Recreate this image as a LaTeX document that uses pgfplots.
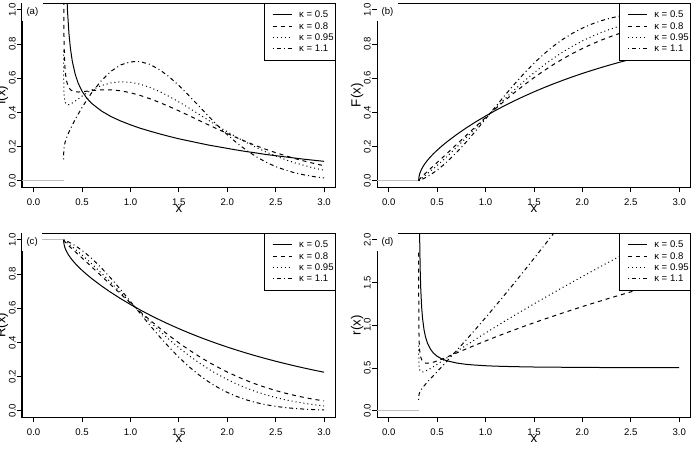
\documentclass[border=0pt]{standalone}
\usepackage{fontspec}
\setmainfont{Liberation Sans}
\usepackage{pgfplots}
\usepackage{pgfplotstable}
\pgfplotsset{compat=1.18}

% Columns: x, density f, cdf F, reliability R, hazard rate h
\pgfplotstableread{
x f F R h
0.31007 23.45 0.0033 0.9967 23.53
0.3102 13.85 0.0056 0.9945 13.93
0.3105 8.737 0.0088 0.9912 8.814
0.311 6.163 0.0124 0.9876 6.240
0.312 4.346 0.0175 0.9825 4.423
0.314 3.065 0.0247 0.9753 3.143
0.317 2.315 0.0326 0.9674 2.393
0.32 1.938 0.0389 0.9611 2.016
0.325 1.586 0.0476 0.9524 1.665
0.33 1.378 0.0550 0.9450 1.458
0.34 1.135 0.0674 0.9326 1.217
0.35 0.993 0.0780 0.9220 1.077
0.365 0.860 0.0918 0.9082 0.947
0.38 0.775 0.1041 0.8959 0.865
0.40 0.697 0.1187 0.8813 0.791
0.43 0.622 0.1384 0.8616 0.722
0.46 0.571 0.1563 0.8437 0.677
0.50 0.524 0.1781 0.8219 0.637
0.55 0.482 0.2032 0.7968 0.605
0.60 0.452 0.2265 0.7735 0.584
0.70 0.408 0.2693 0.7307 0.558
0.80 0.375 0.3084 0.6916 0.542
0.90 0.349 0.3446 0.6554 0.533
1.00 0.327 0.3783 0.6217 0.526
1.10 0.307 0.4100 0.5900 0.521
1.20 0.290 0.4399 0.5601 0.518
1.30 0.274 0.4681 0.5319 0.515
1.40 0.259 0.4947 0.5053 0.513
1.50 0.245 0.5199 0.4801 0.511
1.60 0.233 0.5438 0.4562 0.510
1.70 0.221 0.5665 0.4335 0.509
1.80 0.209 0.5879 0.4121 0.508
1.90 0.199 0.6083 0.3917 0.507
2.00 0.189 0.6277 0.3723 0.506
2.10 0.179 0.6460 0.3540 0.506
2.20 0.170 0.6635 0.3365 0.505
2.30 0.162 0.6800 0.3200 0.505
2.40 0.153 0.6958 0.3042 0.504
2.50 0.146 0.7107 0.2893 0.504
2.60 0.139 0.7249 0.2751 0.504
2.70 0.132 0.7384 0.2616 0.503
2.80 0.125 0.7513 0.2487 0.503
2.90 0.119 0.7635 0.2365 0.503
3.00 0.113 0.7751 0.2249 0.503
}\kapA

\pgfplotstableread{
x f F R h
0.31007 1.849 0.0002 0.9998 1.850
0.3102 1.499 0.0004 0.9996 1.500
0.3105 1.249 0.0008 0.9992 1.250
0.311 1.088 0.0014 0.9986 1.090
0.312 0.949 0.0024 0.9976 0.951
0.314 0.829 0.0041 0.9959 0.833
0.317 0.746 0.0065 0.9935 0.751
0.32 0.699 0.0086 0.9914 0.705
0.325 0.652 0.0120 0.9880 0.660
0.33 0.622 0.0152 0.9848 0.631
0.34 0.585 0.0212 0.9788 0.598
0.35 0.564 0.0270 0.9730 0.579
0.365 0.544 0.0352 0.9648 0.564
0.38 0.533 0.0433 0.9567 0.557
0.40 0.525 0.0539 0.9461 0.555
0.43 0.520 0.0695 0.9305 0.558
0.46 0.519 0.0851 0.9149 0.567
0.50 0.520 0.1059 0.8941 0.582
0.55 0.524 0.1319 0.8681 0.603
0.60 0.527 0.1582 0.8418 0.627
0.70 0.532 0.2112 0.7888 0.675
0.80 0.532 0.2645 0.7355 0.723
0.90 0.526 0.3174 0.6826 0.770
1.00 0.515 0.3695 0.6305 0.816
1.10 0.499 0.4202 0.5798 0.861
1.20 0.480 0.4692 0.5308 0.905
1.30 0.458 0.5162 0.4838 0.947
1.40 0.434 0.5608 0.4392 0.989
1.50 0.409 0.6030 0.3970 1.029
1.60 0.382 0.6425 0.3575 1.069
1.70 0.355 0.6794 0.3206 1.107
1.80 0.328 0.7135 0.2865 1.145
1.90 0.302 0.7450 0.2550 1.182
2.00 0.276 0.7738 0.2262 1.219
2.10 0.251 0.8001 0.1999 1.254
2.20 0.227 0.8240 0.1760 1.289
2.30 0.204 0.8456 0.1544 1.324
2.40 0.183 0.8649 0.1351 1.357
2.50 0.164 0.8823 0.1177 1.391
2.60 0.146 0.8977 0.1023 1.423
2.70 0.129 0.9114 0.0886 1.456
2.80 0.114 0.9236 0.0764 1.488
2.90 0.100 0.9342 0.0658 1.519
3.00 0.087 0.9436 0.0564 1.550
}\kapB

\pgfplotstableread{
x f F R h
0.31007 0.762 0.0001 0.9999 0.762
0.3102 0.686 0.0002 0.9998 0.686
0.3105 0.627 0.0003 0.9997 0.627
0.311 0.585 0.0006 0.9994 0.586
0.312 0.548 0.0012 0.9988 0.548
0.314 0.513 0.0023 0.9977 0.515
0.317 0.489 0.0038 0.9962 0.491
0.32 0.476 0.0052 0.9948 0.478
0.325 0.462 0.0076 0.9924 0.466
0.33 0.455 0.0098 0.9902 0.459
0.34 0.447 0.0143 0.9857 0.454
0.35 0.445 0.0188 0.9812 0.453
0.365 0.445 0.0255 0.9745 0.457
0.38 0.448 0.0322 0.9678 0.463
0.40 0.455 0.0412 0.9588 0.474
0.43 0.466 0.0550 0.9450 0.493
0.46 0.478 0.0692 0.9308 0.514
0.50 0.495 0.0886 0.9114 0.543
0.55 0.514 0.1138 0.8862 0.580
0.60 0.531 0.1399 0.8601 0.617
0.70 0.557 0.1944 0.8056 0.692
0.80 0.573 0.2510 0.7490 0.765
0.90 0.579 0.3087 0.6913 0.838
1.00 0.576 0.3665 0.6335 0.909
1.10 0.565 0.4236 0.5764 0.979
1.20 0.546 0.4792 0.5208 1.049
1.30 0.522 0.5326 0.4674 1.117
1.40 0.493 0.5834 0.4166 1.184
1.50 0.461 0.6312 0.3688 1.250
1.60 0.427 0.6756 0.3244 1.316
1.70 0.391 0.7165 0.2835 1.381
1.80 0.356 0.7539 0.2461 1.445
1.90 0.320 0.7876 0.2124 1.508
2.00 0.286 0.8179 0.1821 1.571
2.10 0.253 0.8449 0.1551 1.633
2.20 0.223 0.8687 0.1313 1.695
2.30 0.194 0.8895 0.1105 1.756
2.40 0.168 0.9076 0.0924 1.816
2.50 0.144 0.9231 0.0769 1.876
2.60 0.123 0.9365 0.0635 1.936
2.70 0.104 0.9478 0.0522 1.995
2.80 0.088 0.9574 0.0426 2.054
2.90 0.073 0.9654 0.0346 2.112
3.00 0.061 0.9721 0.0279 2.170
}\kapC

\pgfplotstableread{
x f F R h
0.31007 0.125 0.0000 1.0000 0.125
0.3102 0.139 0.0000 1.0000 0.139
0.3105 0.152 0.0001 0.9999 0.152
0.311 0.163 0.0001 0.9999 0.164
0.312 0.176 0.0003 0.9997 0.176
0.314 0.190 0.0007 0.9993 0.190
0.317 0.202 0.0013 0.9987 0.203
0.32 0.212 0.0019 0.9981 0.212
0.325 0.224 0.0030 0.9970 0.225
0.33 0.234 0.0041 0.9959 0.235
0.34 0.251 0.0066 0.9934 0.252
0.35 0.265 0.0091 0.9909 0.268
0.365 0.285 0.0133 0.9867 0.289
0.38 0.303 0.0177 0.9823 0.309
0.40 0.326 0.0240 0.9760 0.334
0.43 0.359 0.0343 0.9657 0.371
0.46 0.389 0.0455 0.9545 0.408
0.50 0.428 0.0618 0.9382 0.456
0.55 0.473 0.0844 0.9156 0.517
0.60 0.515 0.1091 0.8909 0.578
0.70 0.586 0.1643 0.8357 0.702
0.80 0.641 0.2258 0.7742 0.828
0.90 0.678 0.2919 0.7081 0.957
1.00 0.696 0.3607 0.6393 1.089
1.10 0.697 0.4305 0.5695 1.223
1.20 0.681 0.4995 0.5005 1.360
1.30 0.650 0.5661 0.4339 1.498
1.40 0.608 0.6291 0.3709 1.639
1.50 0.557 0.6874 0.3126 1.782
1.60 0.500 0.7403 0.2597 1.926
1.70 0.441 0.7874 0.2126 2.072
1.80 0.381 0.8284 0.1716 2.220
1.90 0.323 0.8636 0.1364 2.370
2.00 0.269 0.8932 0.1068 2.521
2.10 0.220 0.9176 0.0824 2.674
2.20 0.177 0.9374 0.0626 2.828
2.30 0.140 0.9532 0.0468 2.983
2.40 0.108 0.9655 0.0345 3.140
2.50 0.082 0.9750 0.0250 3.298
2.60 0.062 0.9822 0.0178 3.457
2.70 0.045 0.9875 0.0125 3.618
2.80 0.033 0.9914 0.0086 3.780
2.90 0.023 0.9941 0.0059 3.943
3.00 0.016 0.9961 0.0039 4.107
}\kapD

\definecolor{rgrey}{RGB}{190,190,190}
\newcommand{\fs}{\fontsize{7.2}{8.5}\selectfont}

\pgfplotsset{
  rpanel/.style={
    scale only axis, width=235.3pt, height=138.3pt,
    anchor=south west,
    xmin=-0.12, xmax=3.12,
    xtick={0,0.5,1,1.5,2,2.5,3},
    tick align=outside, xtick pos=bottom, ytick pos=left,
    major tick length=3.75pt,
    tick style={line width=0.6pt, black},
    axis line style={line width=0.8pt},
    every tick label/.append style={font=\fs},
    /pgf/number format/assume math mode=true,
    xticklabel shift=1.5pt,
    yticklabel shift=-2.5pt,
    xticklabel style={/pgf/number format/.cd, fixed, fixed zerofill, precision=1},
    yticklabel style={rotate=90, anchor=south, /pgf/number format/.cd, fixed, fixed zerofill, precision=1},
    label style={font=\fs},
    every axis x label/.style={at={(axis description cs:0.5,0)}, yshift=-16.5pt, anchor=center},
    every axis y label/.style={at={(axis description cs:0,0.5)}, xshift=-15pt, rotate=90, anchor=center},
    every axis plot/.append style={line width=0.75pt, mark=none},
    legend style={at={(rel axis cs:1,1)}, anchor=north east, draw=black, line width=0.75pt,
      fill=white, font=\fs, inner xsep=1.2pt, inner ysep=4.3pt, row sep=0pt,
      nodes={inner xsep=0pt, inner ysep=0.5pt, text height=6pt, text depth=1.5pt},
      /tikz/every odd column/.append style={column sep=5.25pt}},
    legend cell align=left,
    legend image code/.code={\path[draw=none, fill=none] (0pt,-1pt) rectangle (5pt,1pt);
      \draw[#1] (5pt,0pt) -- (19.25pt,0pt);},
  },
  k05/.style={black, solid},
  k08/.style={black, dash pattern=on 3pt off 3pt},
  k095/.style={black, dash pattern=on 0.75pt off 2.25pt},
  k11/.style={black, dash pattern=on 0.75pt off 2.25pt on 3pt off 2.25pt},
  zeroline/.style={rgrey, line width=0.75pt, solid, forget plot},
}
\tikzset{panellabel/.style={anchor=north west, font=\fs, fill=white,
  inner xsep=3.2pt, inner ysep=3.1pt, text height=5.5pt, text depth=1.6pt}}

\begin{document}
\begin{tikzpicture}
\useasboundingbox (0pt,0pt) rectangle (522pt,339pt);

% (a) density
\begin{axis}[rpanel, at={(16.5pt,198.4pt)},
  ymin=-0.04, ymax=1.04, ytick={0,0.2,0.4,0.6,0.8,1},
  xlabel={x}, ylabel={f(x)}]
\addplot[zeroline] coordinates {(-0.5,0) (0.31,0)};
\addplot[k05] table[x=x, y=f] {\kapA};
\addplot[k08] table[x=x, y=f] {\kapB};
\addplot[k095] table[x=x, y=f] {\kapC};
\addplot[k11] table[x=x, y=f] {\kapD};
\node[panellabel] at (rel axis cs:0,1) {(a)};
\legend{κ = 0.5, κ = 0.8, κ = 0.95, κ = 1.1}
\end{axis}

% (b) distribution function
\begin{axis}[rpanel, at={(282.8pt,198.4pt)},
  ymin=-0.04, ymax=1.04, ytick={0,0.2,0.4,0.6,0.8,1},
  xlabel={x}, ylabel={F(x)}]
\addplot[zeroline] coordinates {(-0.5,0) (0.31,0)};
\addplot[k05] table[x=x, y=F] {\kapA};
\addplot[k08] table[x=x, y=F] {\kapB};
\addplot[k095] table[x=x, y=F] {\kapC};
\addplot[k11] table[x=x, y=F] {\kapD};
\node[panellabel] at (rel axis cs:0,1) {(b)};
\legend{κ = 0.5, κ = 0.8, κ = 0.95, κ = 1.1}
\end{axis}

% (c) reliability function
\begin{axis}[rpanel, at={(16.5pt,25.9pt)},
  ymin=-0.04, ymax=1.04, ytick={0,0.2,0.4,0.6,0.8,1},
  xlabel={x}, ylabel={R(x)}]
\addplot[zeroline] coordinates {(-0.5,1) (0.31,1)};
\addplot[k05] table[x=x, y=R] {\kapA};
\addplot[k08] table[x=x, y=R] {\kapB};
\addplot[k095] table[x=x, y=R] {\kapC};
\addplot[k11] table[x=x, y=R] {\kapD};
\node[panellabel] at (rel axis cs:0,1) {(c)};
\legend{κ = 0.5, κ = 0.8, κ = 0.95, κ = 1.1}
\end{axis}

% (d) hazard rate
\begin{axis}[rpanel, at={(282.8pt,25.9pt)},
  ymin=-0.08, ymax=2.08, ytick={0,0.5,1,1.5,2},
  xlabel={x}, ylabel={r(x)}]
\addplot[zeroline] coordinates {(-0.5,0) (0.31,0)};
\addplot[k05] table[x=x, y=h] {\kapA};
\addplot[k08] table[x=x, y=h] {\kapB};
\addplot[k095] table[x=x, y=h] {\kapC};
\addplot[k11] table[x=x, y=h] {\kapD};
\node[panellabel] at (rel axis cs:0,1) {(d)};
\legend{κ = 0.5, κ = 0.8, κ = 0.95, κ = 1.1}
\end{axis}
\end{tikzpicture}
\end{document}
